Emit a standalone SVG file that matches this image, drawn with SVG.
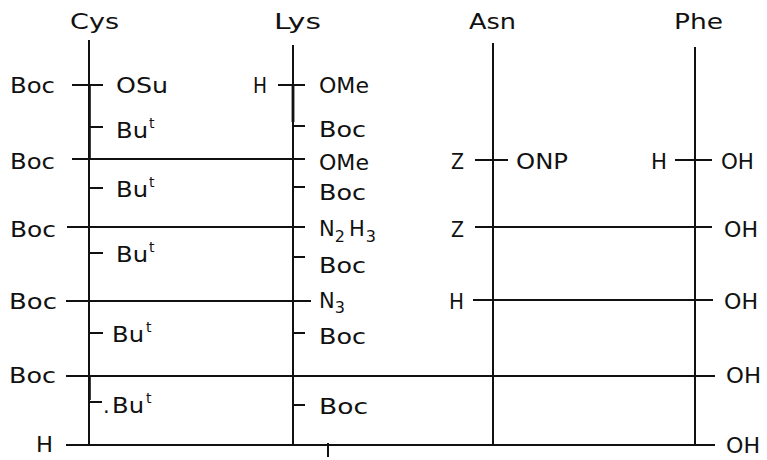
<svg xmlns="http://www.w3.org/2000/svg" width="767" height="460" viewBox="0 0 767 460">
  <style>
    .ln { stroke: #111; stroke-width: 2; fill: none; stroke-linecap: butt; }
    .bold { stroke: #111; stroke-width: 2.8; fill: none; }
    text { font-family: "DejaVu Sans", "Liberation Sans", sans-serif; font-size: 21px; fill: #111; }
    .sup { font-size: 14px; }
    .sub { font-size: 16px; }
  </style>
  <rect width="767" height="460" fill="#fff"/>

  <!-- Cys column -->
  <g id="cys">
    <text x="70" y="29" textLength="49" lengthAdjust="spacingAndGlyphs">Cys</text>
    <line class="ln" x1="89" y1="40" x2="89" y2="445"/>
    <line class="bold" x1="89.4" y1="85" x2="89.4" y2="160"/>
    <line class="bold" x1="89.4" y1="376" x2="89.4" y2="400"/>
    <line class="ln" x1="72" y1="85" x2="103" y2="85"/>
    <line class="ln" x1="89" y1="127" x2="103" y2="127"/>
    <line class="ln" x1="89" y1="188" x2="103" y2="188"/>
    <line class="ln" x1="89" y1="253" x2="103" y2="253"/>
    <line class="ln" x1="89" y1="333" x2="103" y2="333"/>
    <line class="ln" x1="89" y1="402" x2="102" y2="402"/>
    <text x="10" y="93" textLength="45" lengthAdjust="spacingAndGlyphs">Boc</text>
    <text x="10" y="169" textLength="45" lengthAdjust="spacingAndGlyphs">Boc</text>
    <text x="10" y="237" textLength="46" lengthAdjust="spacingAndGlyphs">Boc</text>
    <text x="9" y="309" textLength="48" lengthAdjust="spacingAndGlyphs">Boc</text>
    <text x="9" y="383" textLength="47" lengthAdjust="spacingAndGlyphs">Boc</text>
    <text x="36" y="452" textLength="17" lengthAdjust="spacingAndGlyphs">H</text>
    <text x="116" y="93" textLength="52" lengthAdjust="spacingAndGlyphs">OSu</text>
    <text x="116" y="138" textLength="32" lengthAdjust="spacingAndGlyphs">Bu</text><text class="sup" x="149" y="128">t</text>
    <text x="116" y="197" textLength="32" lengthAdjust="spacingAndGlyphs">Bu</text><text class="sup" x="149" y="187">t</text>
    <text x="116" y="262" textLength="32" lengthAdjust="spacingAndGlyphs">Bu</text><text class="sup" x="149" y="252">t</text>
    <text x="112" y="342" textLength="32" lengthAdjust="spacingAndGlyphs">Bu</text><text class="sup" x="146" y="332">t</text>
    <text x="103" y="413">.</text>
    <text x="112" y="413" textLength="32" lengthAdjust="spacingAndGlyphs">Bu</text><text class="sup" x="146" y="403">t</text>
  </g>

  <!-- Lys column -->
  <g id="lys">
    <text x="274" y="29" textLength="47" lengthAdjust="spacingAndGlyphs">Lys</text>
    <line class="ln" x1="293" y1="45" x2="293" y2="445"/>
    <line class="bold" x1="293" y1="85" x2="293" y2="122"/>
    <line class="ln" x1="278" y1="85" x2="305" y2="85"/>
    <line class="ln" x1="293" y1="126" x2="305" y2="126"/>
    <line class="ln" x1="293" y1="187" x2="305" y2="187"/>
    <line class="ln" x1="293" y1="257" x2="305" y2="257"/>
    <line class="ln" x1="293" y1="333" x2="305" y2="333"/>
    <line class="ln" x1="293" y1="405" x2="305" y2="405"/>
    <text x="253" y="93" textLength="14" lengthAdjust="spacingAndGlyphs">H</text>
    <text x="319" y="93" textLength="50" lengthAdjust="spacingAndGlyphs">OMe</text>
    <text x="319" y="137" textLength="47" lengthAdjust="spacingAndGlyphs">Boc</text>
    <text x="319" y="170" textLength="50" lengthAdjust="spacingAndGlyphs">OMe</text>
    <text x="319" y="200" textLength="47" lengthAdjust="spacingAndGlyphs">Boc</text>
    <text x="319" y="236">N<tspan class="sub" dy="6">2</tspan><tspan dx="4" dy="-6">H</tspan><tspan class="sub" dx="1" dy="6">3</tspan></text>
    <text x="319" y="273" textLength="47" lengthAdjust="spacingAndGlyphs">Boc</text>
    <text x="319" y="308">N<tspan class="sub" dy="5">3</tspan></text>
    <text x="319" y="344" textLength="47" lengthAdjust="spacingAndGlyphs">Boc</text>
    <text x="319" y="414" textLength="49" lengthAdjust="spacingAndGlyphs">Boc</text>
    <line class="ln" x1="328" y1="443" x2="328" y2="457"/>
  </g>

  <!-- Asn column -->
  <g id="asn">
    <text x="469" y="29" textLength="47" lengthAdjust="spacingAndGlyphs">Asn</text>
    <line class="ln" x1="493" y1="43" x2="493" y2="446"/>
    <line class="ln" x1="475" y1="160" x2="508" y2="160"/>
    <text x="451" y="169" textLength="13" lengthAdjust="spacingAndGlyphs">Z</text>
    <text x="516" y="169" textLength="52" lengthAdjust="spacingAndGlyphs">ONP</text>
    <text x="451" y="237" textLength="13" lengthAdjust="spacingAndGlyphs">Z</text>
    <text x="449" y="309" textLength="15" lengthAdjust="spacingAndGlyphs">H</text>
  </g>

  <!-- Phe column -->
  <g id="phe">
    <text x="674" y="29" textLength="49" lengthAdjust="spacingAndGlyphs">Phe</text>
    <line class="ln" x1="695" y1="47" x2="695" y2="446"/>
    <line class="ln" x1="675" y1="160" x2="712" y2="160"/>
    <text x="651" y="169" textLength="16" lengthAdjust="spacingAndGlyphs">H</text>
    <text x="721" y="169" textLength="33" lengthAdjust="spacingAndGlyphs">OH</text>
    <text x="724" y="237" textLength="34" lengthAdjust="spacingAndGlyphs">OH</text>
    <text x="724" y="309" textLength="34" lengthAdjust="spacingAndGlyphs">OH</text>
    <text x="726" y="383" textLength="35" lengthAdjust="spacingAndGlyphs">OH</text>
    <text x="726" y="453" textLength="34" lengthAdjust="spacingAndGlyphs">OH</text>
  </g>

  <!-- coupling lines -->
  <g id="connectors">
    <line class="ln" x1="72" y1="159" x2="305" y2="159"/>
    <line class="ln" x1="67" y1="227" x2="305" y2="227"/>
    <line class="ln" x1="66" y1="301" x2="311" y2="301"/>
    <line class="ln" x1="66" y1="376" x2="715" y2="376"/>
    <line class="ln" x1="66" y1="445" x2="715" y2="445"/>
    <line class="ln" x1="475" y1="227" x2="712" y2="227"/>
    <line class="ln" x1="473" y1="300" x2="713" y2="300"/>
  </g>
</svg>
